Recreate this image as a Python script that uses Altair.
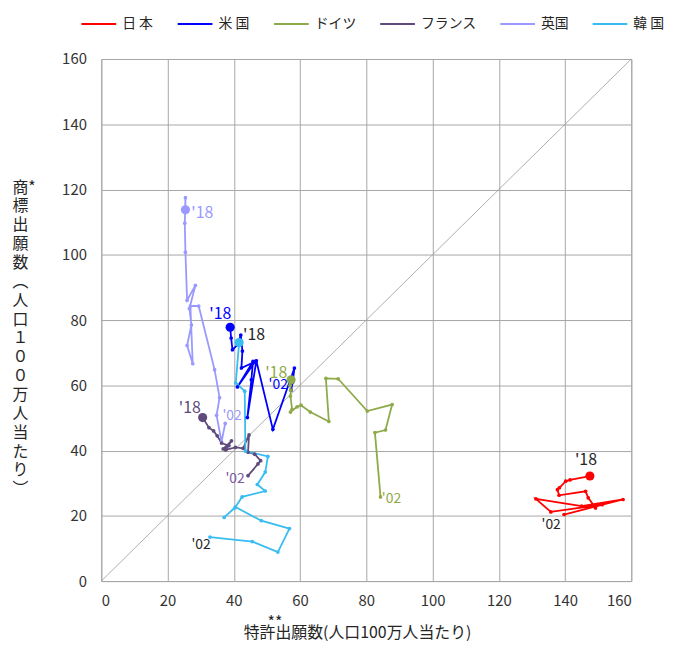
import altair as alt
import pandas as pd

FONT = "Noto Sans CJK JP"

years = list(range(2002, 2019))
countries = ["日 本", "米 国", "ドイツ", "フランス", "英国", "韓 国"]
colors = ["#FF0000", "#0000FF", "#8FAA4A", "#604A7B", "#9999FF", "#38BDF2"]

jp_x = [139.7, 157.5, 145.0, 131.2, 135.7, 151.2, 146.0, 149.7, 149.2, 147.0, 146.2, 138.2, 137.7, 138.3, 140.2, 141.5, 147.5]
jp_y = [20.4, 25.0, 23.0, 25.2, 21.2, 23.4, 22.8, 23.4, 22.4, 25.5, 27.5, 26.3, 28.0, 28.6, 30.6, 31.0, 32.2]

us_x = [57.3, 57.8, 58.3, 51.8, 46.8, 44.1, 45.3, 45.8, 41.1, 46.5, 42.3, 42.6, 42.1, 41.2, 39.6, 39.2, 38.9]
us_y = [58.5, 61.0, 65.3, 46.5, 67.5, 50.1, 61.7, 67.3, 59.5, 67.3, 65.3, 70.5, 75.4, 72.5, 70.9, 74.5, 77.8]

de_x = [84.3, 82.6, 85.8, 87.8, 80.3, 71.5, 67.8, 68.7, 63.1, 60.3, 59.1, 57.1, 57.6, 57.1, 57.2, 57.0, 57.3]
de_y = [25.8, 45.5, 46.3, 54.1, 52.1, 62.0, 62.1, 48.9, 51.8, 53.9, 53.4, 51.8, 52.6, 56.7, 58.5, 60.0, 61.7]

fr_x = [44.3, 47.3, 48.1, 46.3, 44.3, 44.6, 42.8, 40.5, 37.6, 39.3, 36.8, 38.5, 36.3, 35.0, 33.9, 32.5, 30.6]
fr_y = [32.3, 35.9, 36.9, 38.9, 39.5, 44.8, 40.7, 41.0, 40.2, 43.0, 40.5, 41.5, 42.3, 44.5, 46.0, 47.0, 50.1]

uk_x = [37.4, 36.3, 34.8, 35.7, 34.2, 29.4, 26.9, 27.6, 25.9, 27.2, 26.6, 28.4, 25.9, 25.4, 25.2, 25.4, 25.4]
uk_y = [48.3, 42.7, 50.8, 56.2, 64.8, 84.3, 84.3, 66.6, 72.2, 78.5, 83.5, 90.6, 86.1, 100.8, 109.7, 117.5, 113.8]

kr_x = [32.8, 45.6, 53.3, 56.8, 48.3, 40.5, 37.1, 40.3, 42.5, 49.5, 47.1, 49.5, 50.3, 43.5, 43.3, 40.6, 41.6]
kr_y = [13.5, 12.1, 8.9, 16.1, 18.5, 22.7, 19.5, 22.4, 25.8, 27.6, 29.6, 33.4, 38.2, 39.8, 58.2, 60.7, 73.1]

tick_values = [0, 20, 40, 60, 80, 100, 120, 140, 160]
diag_vals = [0, 160]

x_title = ["\u200b\u3000\u2002**", "特許出願数(人口100万人当たり)"]
y_title = ["商*", "標", "出", "願", "数", "︵", "人", "口", "１", "０", "０",
           "万", "人", "当", "た", "り", "︶"]

series = {
    "日 本": (jp_x, jp_y),
    "米 国": (us_x, us_y),
    "ドイツ": (de_x, de_y),
    "フランス": (fr_x, fr_y),
    "英国": (uk_x, uk_y),
    "韓 国": (kr_x, kr_y),
}

rows = []
for c in countries:
    xs, ys = series[c]
    for yr, xv, yv in zip(years, xs, ys):
        rows.append({"country": c, "year": yr, "x": xv, "y": yv})
df = pd.DataFrame(rows)
diag = pd.DataFrame({"x": diag_vals, "y": diag_vals})

xscale = alt.Scale(domain=[0, 160], nice=False)
yscale = alt.Scale(domain=[0, 160], nice=False)

x_axis = alt.Axis(values=tick_values, grid=True, gridColor="#A6A6A6", gridWidth=1,
                  domain=False, ticks=False, labelPadding=13, labelFontSize=15,
                  labelColor="#333333", labelFont=FONT, title=x_title, titleFont=FONT,
                  titleFontSize=16, titleFontWeight="normal", titleColor="#262626",
                  titleAlign="left", titleBaseline="top", titleX=143, titleY=34,
                  titleLineHeight=10, titleAngle=0)
y_axis = alt.Axis(values=tick_values, grid=True, gridColor="#A6A6A6", gridWidth=1,
                  domain=False, ticks=False, labelPadding=15, labelFontSize=15,
                  labelColor="#333333", labelFont=FONT, title=y_title, titleFont=FONT,
                  titleFontSize=16, titleFontWeight="normal", titleColor="#262626",
                  titleAlign="left", titleBaseline="top", titleAngle=0,
                  titleX=-90, titleY=121, titleLineHeight=19)

X = alt.X("x:Q", scale=xscale, axis=x_axis)
Y = alt.Y("y:Q", scale=yscale, axis=y_axis)
color_scale = alt.Scale(domain=countries, range=colors)

diag_line = alt.Chart(diag).mark_line(color="#9A9A9A", strokeWidth=0.8).encode(x=X, y=Y)

lines = alt.Chart(df).mark_line(
    strokeWidth=1.8, point=alt.OverlayMarkDef(filled=True, size=14, opacity=1)
).encode(
    x=X, y=Y,
    color=alt.Color("country:N", scale=color_scale, legend=alt.Legend(
        title=None, orient="none", legendX=-21, legendY=-54, direction="horizontal",
        symbolType="stroke", symbolSize=1225, symbolStrokeWidth=2,
        labelFont=FONT, labelFontSize=14, labelColor="#262626", labelOffset=5,
        columnPadding=20)),
    order="year:Q",
)

ends = alt.Chart(df).transform_filter(alt.datum.year == 2018).mark_circle(
    size=85, opacity=1).encode(
    x=X, y=Y, color=alt.Color("country:N", scale=color_scale, legend=None))

# label styling: (country, year, text, dx, dy, font size, color)
label_style = [
    ("日 本", 2018, "'18", -4, -16, 16, "#262626"),
    ("日 本", 2002, "'02", -13, 11, 14, "#262626"),
    ("米 国", 2018, "'18", -10, -13, 16, "#0000FF"),
    ("米 国", 2002, "'02", -13, -5, 14, "#0000FF"),
    ("ドイツ", 2018, "'18", -15, -7, 16, "#8FAA4A"),
    ("ドイツ", 2002, "'02", 11, 2, 14, "#8FAA4A"),
    ("フランス", 2018, "'18", -13, -10, 16, "#604A7B"),
    ("フランス", 2002, "'02", -13, 3, 14, "#7A5A9E"),
    ("英国", 2018, "'18", 17, 3, 16, "#9999FF"),
    ("英国", 2002, "'02", 7, -8, 14, "#9999FF"),
    ("韓 国", 2018, "'18", 15, -8, 16, "#262626"),
    ("韓 国", 2002, "'02", -9, 8, 14, "#262626"),
]

label_layers = []
for c, yr, txt, dx, dy, fs, col in label_style:
    label_layers.append(
        alt.Chart(df).transform_filter(
            (alt.datum.country == c) & (alt.datum.year == yr)
        ).mark_text(text=txt, dx=dx, dy=dy, fontSize=fs, font=FONT, color=col,
                    align="center", baseline="middle").encode(x=X, y=Y)
    )

chart = alt.layer(diag_line, lines, ends, *label_layers).properties(
    width=534, height=526,
    autosize=alt.AutoSizeParams(type="none"),
    padding={"left": 94, "top": 49, "right": 40, "bottom": 60},
).configure_view(stroke="#A6A6A6", strokeWidth=1)

chart.save("out.html", embed_options={"renderer": "svg", "actions": False})
